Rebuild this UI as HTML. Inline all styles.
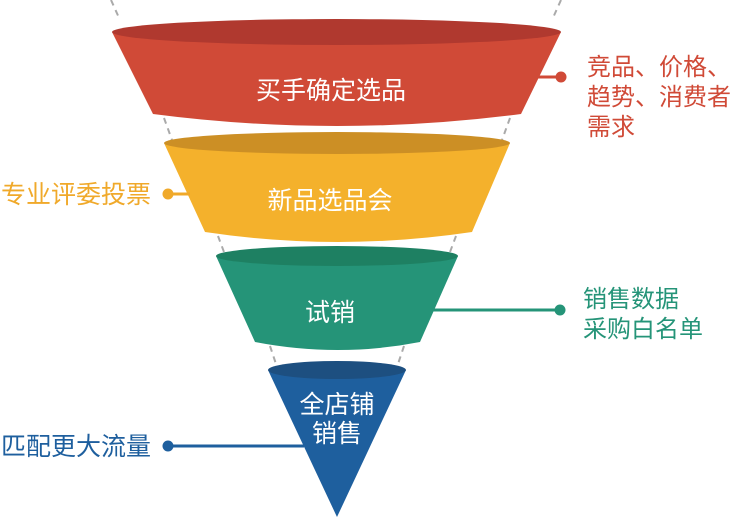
<!DOCTYPE html>
<html><head><meta charset="utf-8"><style>
html,body{margin:0;padding:0;background:#fff;width:744px;height:518px;overflow:hidden}
svg text{font-family:"Liberation Sans","Noto Sans CJK SC",sans-serif}
</style></head><body>
<svg width="744" height="518" viewBox="0 0 744 518" xmlns="http://www.w3.org/2000/svg">
<g stroke="#aaa" stroke-width="2" stroke-dasharray="6,5" fill="none">
<line x1="111" y1="0" x2="120" y2="20"/><line x1="561" y1="0" x2="552" y2="20"/>
<line x1="164" y1="118" x2="172" y2="140"/><line x1="510" y1="118" x2="502" y2="140"/>
<line x1="218" y1="236" x2="224" y2="252"/><line x1="456" y1="236" x2="450" y2="252"/>
<line x1="270" y1="346" x2="276" y2="364"/><line x1="404" y1="346" x2="398" y2="364"/>
</g>
<path d="M112,32 L153,114 Q337,138 521,114 L561,32 Z" fill="#d04a37"/>
<ellipse cx="336.5" cy="32" rx="224.5" ry="13" fill="#b0392f"/>
<path d="M164,143 L205,232 Q338,252 472,232 L510,143 Z" fill="#f4b12c"/>
<ellipse cx="337" cy="143" rx="173" ry="11" fill="#cc8f25"/>
<path d="M216,256 L255,342 Q338,358 420,342 L458,256 Z" fill="#259478"/>
<ellipse cx="337" cy="256" rx="121" ry="10" fill="#1e8062"/>
<path d="M268,370 L337,517 L406,370 Z" fill="#1e5f9e"/>
<ellipse cx="337" cy="370" rx="69" ry="9" fill="#1d4f80"/>
<line x1="538" y1="77" x2="561" y2="77" stroke="#d04a37" stroke-width="3"/>
<circle cx="561" cy="77" r="5.5" fill="#d04a37"/>
<line x1="168" y1="194" x2="190" y2="194" stroke="#f0a92a" stroke-width="3"/>
<circle cx="168" cy="194" r="5.5" fill="#f0a92a"/>
<line x1="432" y1="310" x2="560" y2="310" stroke="#259478" stroke-width="3"/>
<circle cx="560" cy="310" r="5.5" fill="#259478"/>
<line x1="168" y1="446" x2="304" y2="446" stroke="#1e5f9e" stroke-width="3"/>
<circle cx="168" cy="446" r="5.5" fill="#1e5f9e"/>
<g fill="#fff" font-size="25" text-anchor="middle">
<text x="331" y="99">买手确定选品</text>
<text x="330" y="209">新品选品会</text>
<text x="330" y="321">试销</text>
<text x="337" y="413">全店铺</text>
<text x="337" y="442">销售</text>
</g>
<g font-size="24">
<text x="587" y="75" fill="#d04a37">竞品、价格、</text>
<text x="587" y="105" fill="#d04a37">趋势、消费者</text>
<text x="587" y="135" fill="#d04a37">需求</text>
<text x="1" y="203" fill="#f0a92a" font-size="25">专业评委投票</text>
<text x="583" y="307" fill="#259478">销售数据</text>
<text x="583" y="337" fill="#259478">采购白名单</text>
<text x="1" y="455" fill="#1e5f9e" font-size="25">匹配更大流量</text>
</g>
</svg>
</body></html>
